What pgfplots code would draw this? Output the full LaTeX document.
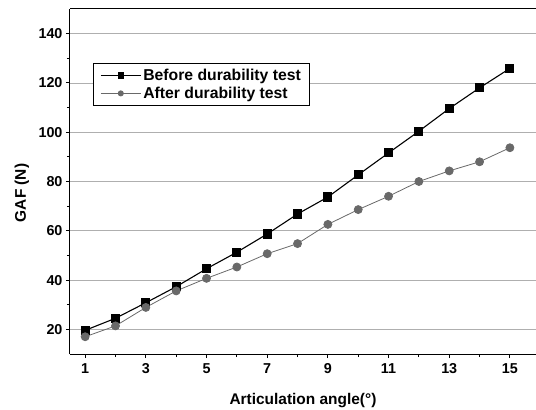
\documentclass[border=0pt]{standalone}
\usepackage{fontspec}
\setmainfont{Liberation Sans}
\usepackage{pgfplots}
\pgfplotsset{compat=1.18}
\definecolor{aftergray}{RGB}{105,105,105}
\definecolor{gridgray}{RGB}{175,175,175}
\begin{document}
\begin{tikzpicture}
\begin{axis}[
  scale only axis, width=466bp, height=345bp,
  xmin=0.5, xmax=15.86, ymin=10, ymax=150,
  axis x line*=box, axis y line*=left,
  xtick pos=bottom, ytick pos=left,
  axis line style={black, line width=1bp},
  tick align=outside,
  major tick length=4bp, minor tick length=3bp,
  every tick/.style={black, line width=0.9bp},
  xtick={1,3,...,15}, minor xtick={2,4,...,14},
  ytick={20,40,...,140}, minor ytick={30,50,...,130},
  ymajorgrids, major grid style={gridgray, line width=0.8bp},
  /pgf/number format/assume math mode=true,
  ticklabel style={font=\bfseries\fontsize{14.4}{16}\selectfont},
  xticklabel style={yshift=-2bp},
  xlabel={Articulation angle(°)},
  ylabel={GAF (N)},
  label style={font=\bfseries\fontsize{15.5}{18}\selectfont},
  xlabel style={at={(axis description cs:0.5,-0.135)}, anchor=center},
  ylabel style={at={(axis description cs:-0.103,0.467)}, anchor=center, rotate=0},
  legend style={at={(0.049,0.843)}, anchor=north west, draw=black, line width=0.8bp,
    fill=white, font=\bfseries\fontsize{15.8}{18}\selectfont,
    inner xsep=7bp, inner ysep=3.5bp, row sep=1bp},
  legend cell align=left,
  legend image code/.code={\draw[mark repeat=2,mark phase=2,mark size=2.6bp] plot coordinates {(0bp,0bp) (20bp,0bp) (40bp,0bp)};},
]
\addplot[black, line width=1.1bp, mark=square*, mark size=4bp, mark options={solid}] coordinates {
(1,19.6) (2,24.5) (3,30.8) (4,37.3) (5,44.6) (6,51.3) (7,58.7) (8,66.8) (9,73.7) (10,82.7) (11,91.6) (12,100.4) (13,109.6) (14,118.0) (15,125.9)};
\addlegendentry{Before durability test}
\addplot[aftergray, line width=0.8bp, mark=*, mark size=4bp, mark options={solid}] coordinates {
(1,17.0) (2,21.4) (3,28.9) (4,35.6) (5,40.7) (6,45.3) (7,50.7) (8,54.8) (9,62.6) (10,68.6) (11,74.0) (12,80.0) (13,84.3) (14,88.0) (15,93.7)};
\addlegendentry{After durability test}
\end{axis}
\pgfresetboundingbox
\useasboundingbox (-70bp,-56bp) rectangle (466bp,354bp);
\end{tikzpicture}
\end{document}
